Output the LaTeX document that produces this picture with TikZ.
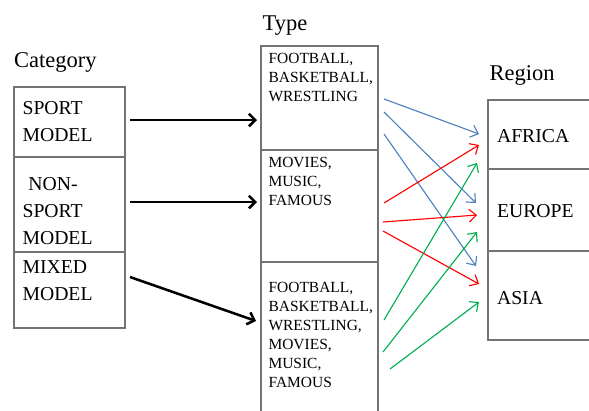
\documentclass[tikz,border=0pt]{standalone}
\usepackage{fontspec}
\setmainfont{Liberation Serif}
\usetikzlibrary{arrows.meta}
\definecolor{linkblue}{HTML}{4F81BD}
\definecolor{linkred}{HTML}{FF0000}
\definecolor{linkgreen}{HTML}{00B050}
\tikzset{
  box/.style={draw=black!55, line width=0.8pt, rectangle, inner sep=0pt},
  head/.style={anchor=north west, inner sep=0pt, font=\fontsize{16}{19}\selectfont},
  big/.style={anchor=north west, inner sep=0pt, align=left, font=\fontsize{14}{19}\selectfont},
  small/.style={anchor=north west, inner sep=0pt, align=left, font=\fontsize{11}{13.5}\selectfont},
  link/.style={line width=0.8pt, -{Straight Barb[length=5pt,width=9pt]}},
  feed/.style={line width=1.8pt, -{Straight Barb[length=4.5pt,width=9pt]}},
}
\begin{document}
\begin{tikzpicture}[x=0.025cm, y=-0.025cm, >=stealth, thick]
\useasboundingbox (0,0) rectangle (589,410);
% headings
\node[head] (cat) at (13.5,52) {Category};
\node[head] (typ) at (262,15) {Type};
\node[head] (reg) at (489,65) {Region};
% category boxes
\node[box, minimum width=2.775cm, minimum height=1.75cm] (sport) at (69.5,122) {};
\node[box, minimum width=2.775cm, minimum height=2.375cm] (nonsport) at (69.5,204.5) {};
\node[box, minimum width=2.775cm, minimum height=1.9cm] (mixed) at (69.5,290) {};
\node[big] (sporttxt) at (22,101) {SPORT\\MODEL};
\node[big] (nonsporttxt) at (22,177) {\hspace*{0.3em}NON-\\SPORT\\MODEL};
\node[big] (mixedtxt) at (22,260) {MIXED\\MODEL};
% type boxes
\node[box, minimum width=2.925cm, minimum height=2.6cm] (t1) at (319.5,98) {};
\node[box, minimum width=2.925cm, minimum height=2.8cm] (t2) at (319.5,206) {};
\node[box, minimum width=2.925cm, minimum height=3.85cm] (t3) at (319.5,339) {};
\node[small] (t1txt) at (268,53) {FOOTBALL,\\BASKETBALL,\\WRESTLING};
\node[small] (t2txt) at (268,157) {MOVIES,\\MUSIC,\\FAMOUS};
\node[small] (t3txt) at (268,282) {FOOTBALL,\\BASKETBALL,\\WRESTLING,\\MOVIES,\\MUSIC,\\FAMOUS};
% region boxes
\node[box, minimum width=2.8cm, minimum height=1.725cm] (africa) at (544,134.5) {};
\node[box, minimum width=2.8cm, minimum height=2.05cm] (europe) at (544,210) {};
\node[box, minimum width=2.8cm, minimum height=2.225cm] (asia) at (544,295.5) {};
\node[big] (africatxt) at (496.5,128.5) {AFRICA};
\node[big] (europetxt) at (496.5,203.5) {EUROPE};
\node[big] (asiatxt) at (496.5,290.5) {ASIA};
% arrow ends
\coordinate (s1) at (130,120);
\coordinate (e1) at (257,120);
\coordinate (s2) at (130,202);
\coordinate (e2) at (257,202);
\coordinate (s3) at (130,277);
\coordinate (e3) at (256,321);
\coordinate (b1s) at (384,99);
\coordinate (b1e) at (479,134);
\coordinate (b2s) at (384,112);
\coordinate (b2e) at (476,203);
\coordinate (b3s) at (384,134);
\coordinate (b3e) at (476,266);
\coordinate (r1s) at (384,203);
\coordinate (r1e) at (479,145);
\coordinate (r2s) at (383,222);
\coordinate (r2e) at (477,215);
\coordinate (r3s) at (383,231);
\coordinate (r3e) at (479,284);
\coordinate (g1s) at (384,320);
\coordinate (g1e) at (477,163);
\coordinate (g2s) at (383,352);
\coordinate (g2e) at (477,232);
\coordinate (g3s) at (390,369);
\coordinate (g3e) at (479,302);
% category to type
\draw[feed] (s1) -- (e1);
\draw[feed] (s2) -- (e2);
\draw[feed] (s3) -- (e3);
% type to region
\draw[link, linkblue] (b1s) -- (b1e);
\draw[link, linkblue] (b2s) -- (b2e);
\draw[link, linkblue] (b3s) -- (b3e);
\draw[link, linkred] (r1s) -- (r1e);
\draw[link, linkred] (r2s) -- (r2e);
\draw[link, linkred] (r3s) -- (r3e);
\draw[link, linkgreen] (g1s) -- (g1e);
\draw[link, linkgreen] (g2s) -- (g2e);
\draw[link, linkgreen] (g3s) -- (g3e);
\end{tikzpicture}
\end{document}
